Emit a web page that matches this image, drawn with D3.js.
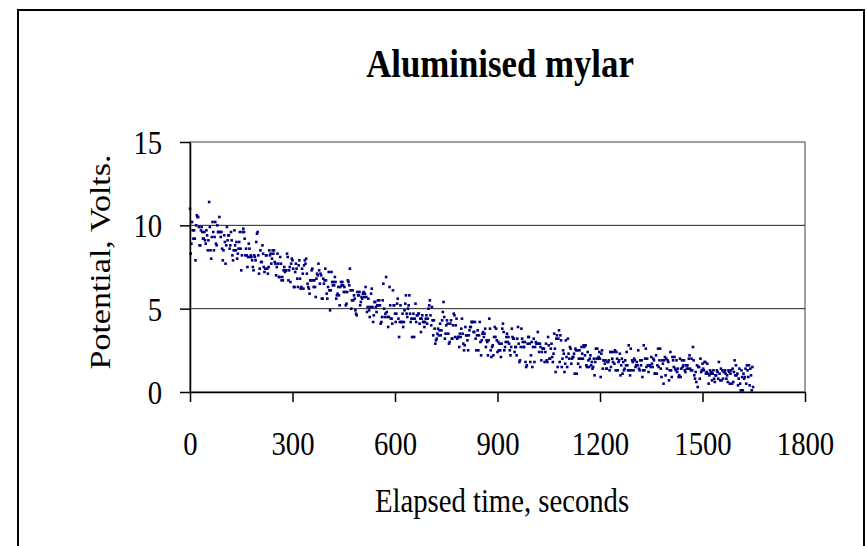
<!DOCTYPE html>
<html>
<head>
<meta charset="utf-8">
<script src="https://cdn.jsdelivr.net/npm/d3@7"></script>
<style>
  body { margin: 0; background: #fff; }
  text { font-family: "Liberation Serif", "Times New Roman", serif; fill: #000; }
</style>
</head>
<body>
<div id="chart"></div>
<script>
// chart text
var title = "Aluminised mylar";
var xTitle = "Elapsed time, seconds";
var yTitle = "Potential, Volts.";

// tick values
var xTicks = [0, 300, 600, 900, 1200, 1500, 1800];
var yTicks = [0, 5, 10, 15];

// readings were logged every 2 seconds, each segment starts at these times
var sampleStep = 2;
var segmentStart = [0, 300, 600, 900, 1200, 1500];

// potential readings (volts), one array per 300 s segment
var volts0 = [
  11.0, 8.3, 8.9, 10.2, 9.7, 9.2, 9.7, 9.2, 7.9, 10.0, 10.6, 10.5, 10.5, 9.9, 8.8, 8.8, 9.7, 9.9, 9.6, 9.2, 9.2, 9.6, 9.1, 8.9, 9.7,
  9.4, 8.5, 9.1, 11.4, 9.9, 8.5, 8.0, 9.3, 10.2, 9.6, 8.5, 9.3, 10.2, 8.9, 8.8, 10.0, 9.6, 9.6, 10.5, 9.6, 9.3, 9.6, 8.6, 7.9, 8.5,
  9.4, 9.0, 7.7, 8.8, 9.9, 9.1, 9.4, 9.4, 8.6, 8.8, 9.6, 9.1, 8.2, 7.9, 8.5, 9.7, 8.8, 8.5, 9.0, 8.0, 8.3, 8.6, 9.0, 9.6, 8.6,
  7.3, 8.2, 9.6, 9.8, 9.6, 9.2, 8.2, 8.6, 8.2, 7.5, 8.1, 8.9, 8.6, 8.1, 8.2, 8.1, 7.9, 7.5, 7.3, 8.2, 8.1, 7.9, 9.0, 9.5, 9.6,
  8.2, 7.1, 7.4, 8.5, 7.8, 7.8, 8.8, 8.3, 7.5, 7.2, 7.4, 8.2, 8.2, 7.4, 7.1, 7.5, 8.5, 8.2, 8.3, 7.7, 8.0, 8.5, 8.3, 8.5, 7.8,
  7.7, 7.0, 7.5, 8.3, 7.7, 6.9, 6.9, 8.1, 7.7, 6.7, 6.9, 6.7, 7.3, 7.5, 7.2, 7.3, 7.3, 8.3, 8.1, 6.7, 7.3, 7.5, 6.6, 7.7, 8.0
];
var volts1 = [
  7.9, 7.4, 6.3, 6.3, 7.2, 7.7, 7.4, 6.8, 6.3, 7.6, 7.9, 6.8, 6.2, 6.3, 7.4, 7.1, 6.2, 7.6, 7.9, 7.7, 8.0, 7.1, 6.5, 6.3, 6.2,
  5.9, 6.7, 6.7, 7.3, 7.4, 6.7, 6.3, 6.7, 6.3, 5.7, 6.8, 7.1, 7.0, 7.7, 7.3, 6.5, 7.1, 7.0, 5.6, 5.6, 6.8, 6.5, 6.7, 7.4, 6.7,
  5.9, 5.6, 6.3, 7.2, 6.1, 4.9, 6.1, 7.2, 6.6, 6.4, 6.6, 6.4, 6.9, 6.6, 5.6, 5.8, 5.9, 6.3, 5.8, 5.2, 6.3, 6.6, 6.4, 6.6, 6.4,
  6.0, 6.3, 6.0, 5.2, 5.3, 6.0, 6.7, 6.6, 6.4, 7.4, 6.1, 5.0, 5.5, 6.1, 5.5, 5.8, 5.6, 4.9, 4.7, 4.6, 6.0, 5.8, 5.8, 6.0, 5.2,
  5.4, 5.7, 5.6, 5.9, 6.0, 5.7, 5.9, 6.3, 5.7, 4.8, 5.1, 5.6, 4.9, 4.5, 5.1, 5.9, 6.2, 5.1, 4.2, 4.6, 5.4, 5.4, 5.1, 4.8, 5.2,
  5.5, 5.2, 5.5, 5.2, 4.1, 4.2, 4.5, 5.5, 6.5, 5.0, 4.5, 4.7, 6.9, 4.8, 4.5, 3.9, 4.5, 6.3, 5.2, 4.4, 4.4, 4.1, 6.1, 5.2, 5.2
];
var volts2 = [
  4.7, 4.2, 4.7, 5.3, 5.6, 4.4, 3.3, 4.2, 5.2, 4.2, 4.2, 4.7, 3.9, 4.2, 4.9, 5.3, 5.8, 4.7, 4.5, 5.0, 5.2, 5.8, 4.7, 4.2, 4.4,
  3.3, 4.4, 4.7, 3.3, 4.4, 5.3, 4.2, 4.6, 4.6, 4.7, 4.7, 4.1, 4.4, 3.6, 4.4, 4.6, 4.2, 4.2, 3.9, 4.2, 4.4, 4.6, 4.1, 4.4, 5.0,
  5.2, 5.5, 4.6, 4.0, 5.1, 4.3, 3.4, 4.3, 3.8, 2.9, 3.1, 3.2, 3.5, 3.8, 3.4, 3.7, 4.1, 3.4, 3.7, 4.3, 4.8, 5.4, 4.5, 3.2, 3.5,
  4.0, 4.3, 4.1, 3.5, 2.9, 3.0, 4.1, 4.3, 3.2, 3.2, 4.0, 4.7, 4.6, 3.3, 4.0, 4.4, 3.2, 3.3, 3.3, 2.7, 3.5, 3.3, 3.8, 4.4, 3.5,
  2.9, 2.5, 2.8, 3.9, 3.4, 3.4, 3.1, 2.5, 3.4, 3.7, 3.9, 3.9, 4.2, 4.2, 4.2, 3.6, 3.6, 4.2, 3.2, 2.5, 3.4, 3.7, 2.5, 3.4, 4.2,
  3.0, 2.2, 3.1, 3.5, 3.6, 3.3, 3.5, 3.8, 2.7, 3.1, 3.0, 2.2, 3.1, 4.4, 3.8, 2.5, 2.1, 2.7, 2.8, 2.2, 3.3, 3.9, 3.3, 3.8, 3.1
];
var volts3 = [
  2.4, 3.0, 2.5, 2.9, 2.5, 2.1, 2.9, 3.8, 4.1, 3.6, 2.5, 2.7, 3.0, 3.3, 3.5, 3.0, 3.3, 2.9, 2.5, 2.2, 2.7, 3.8, 3.3, 3.2, 3.2,
  2.4, 2.7, 2.7, 2.2, 3.2, 3.9, 2.9, 1.8, 1.9, 2.7, 3.8, 3.2, 3.0, 2.7, 2.7, 3.0, 1.8, 1.5, 1.6, 2.9, 3.3, 3.3, 2.9, 1.8, 2.2,
  3.0, 1.5, 2.7, 3.2, 1.8, 2.7, 3.0, 2.9, 2.9, 3.6, 2.9, 2.4, 2.9, 2.7, 1.9, 2.4, 2.6, 2.6, 2.6, 1.8, 2.4, 2.9, 1.9, 1.8, 3.3,
  2.8, 2.0, 2.0, 2.6, 2.9, 2.1, 1.8, 2.3, 3.5, 2.6, 1.2, 3.2, 3.4, 1.5, 3.2, 3.7, 1.8, 3.4, 3.1, 1.5, 2.0, 2.5, 2.3, 1.2, 1.7,
  3.1, 2.1, 1.5, 3.2, 2.3, 2.0, 2.7, 2.6, 1.7, 2.0, 2.1, 2.1, 2.3, 1.1, 2.6, 2.5, 1.1, 2.5, 1.7, 2.0, 2.5, 1.5, 2.0, 2.7, 2.3,
  2.0, 2.8, 2.7, 2.2, 2.8, 1.6, 1.5, 2.4, 1.9, 1.5, 2.0, 2.2, 1.6, 1.8, 1.4, 1.5, 2.0, 1.0, 1.8, 2.6, 2.0, 2.6, 2.0, 2.1, 2.4
];
var volts4 = [
  2.0, 0.9, 2.3, 2.5, 1.4, 1.9, 1.9, 1.7, 1.9, 1.4, 1.4, 1.8, 1.8, 1.9, 1.3, 2.4, 1.5, 2.4, 2.0, 1.8, 2.4, 1.7, 2.5, 1.3, 2.4,
  2.0, 1.3, 1.8, 1.9, 2.3, 1.0, 1.6, 2.0, 1.1, 1.8, 1.3, 1.4, 1.9, 1.6, 2.4, 1.6, 1.3, 2.8, 1.3, 1.0, 2.6, 1.3, 1.9, 1.8, 1.3,
  2.0, 1.9, 1.5, 1.6, 1.8, 1.6, 2.5, 1.4, 1.3, 1.9, 1.6, 1.9, 0.9, 1.3, 2.8, 1.3, 2.0, 2.6, 1.5, 2.0, 1.6, 1.2, 1.6, 1.6, 1.5,
  2.1, 1.7, 1.5, 2.0, 1.9, 1.1, 1.1, 2.2, 1.1, 1.6, 2.6, 1.5, 1.9, 2.6, 1.4, 0.9, 1.9, 1.7, 0.5, 1.9, 2.1, 1.0, 2.0, 1.4, 1.9,
  1.8, 0.7, 1.3, 2.4, 1.3, 0.9, 2.1, 1.9, 1.5, 2.1, 1.4, 1.3, 1.9, 1.2, 1.4, 0.9, 1.0, 2.0, 0.9, 1.4, 1.9, 1.5, 1.6, 1.9, 1.3,
  1.2, 1.6, 1.4, 1.6, 1.4, 2.0, 2.2, 1.4, 1.3, 2.0, 1.3, 2.7, 1.9, 1.0, 0.8, 1.2, 0.6, 1.6, 0.3, 1.5, 1.5, 0.8, 2.0, 1.2, 1.3
];
var volts5 = [
  1.7, 1.4, 1.3, 1.8, 1.8, 1.1, 1.2, 1.7, 1.1, 0.5, 1.0, 1.3, 1.1, 1.2, 0.7, 1.1, 1.3, 0.8, 0.6, 1.0, 1.0, 1.3, 1.2, 0.8, 1.8,
  1.1, 0.7, 1.4, 0.7, 1.3, 0.8, 1.2, 1.2, 1.3, 1.1, 0.8, 1.0, 0.6, 1.3, 1.2, 0.5, 1.1, 1.3, 0.5, 1.4, 0.6, 1.2, 1.9, 1.0, 1.6,
  1.0, 1.1, 0.4, 0.8, 1.4, 0.5, 0.1, 1.3, 0.9, 0.1, 1.1, 0.8, 0.9, 1.4, 0.5, 1.6, 1.3, 0.9, 1.6, 0.4, 1.4, 1.0, 0.1, 1.5, 0.3
];

var segments = [volts0, volts1, volts2, volts3, volts4, volts5];
var data = [];
segments.forEach(function(seg, k) {
  seg.forEach(function(v, i) {
    data.push({t: segmentStart[k] + i * sampleStep, v: v});
  });
});

var width = 867, height = 546;
var squeeze = 0.87;   // the original text is slightly narrow

var svg = d3.select("#chart").append("svg")
    .attr("width", width)
    .attr("height", height);

// outer frame
svg.append("rect")
    .attr("x", 18).attr("y", 10)
    .attr("width", 846).attr("height", 560)
    .attr("fill", "none")
    .attr("stroke", "#000")
    .attr("stroke-width", 2);

// scales
var x = d3.scaleLinear().domain([0, 1800]).range([190, 805]);
var y = d3.scaleLinear().domain([0, 15]).range([392, 142]);

// plot area border (grey)
svg.append("rect")
    .attr("x", x(0)).attr("y", y(15))
    .attr("width", x(1800) - x(0)).attr("height", y(0) - y(15))
    .attr("fill", "none")
    .attr("stroke", "#808080")
    .attr("stroke-width", 1.5);

// gridlines
svg.append("g").selectAll("line")
    .data(yTicks.filter(function(d) { return d > 0 && d < 15; }))
  .enter().append("line")
    .attr("x1", x(0)).attr("x2", x(1800))
    .attr("y1", function(d) { return y(d); })
    .attr("y2", function(d) { return y(d); })
    .attr("stroke", "#222")
    .attr("stroke-width", 1);

// points
svg.append("g").selectAll("rect")
    .data(data)
  .enter().append("rect")
    .attr("x", function(d) { return x(d.t) - 1.3; })
    .attr("y", function(d) { return y(d.v) - 1.3; })
    .attr("width", 2.6).attr("height", 2.6)
    .attr("fill", "#000080");

// axes
var xAxis = svg.append("g")
    .attr("transform", "translate(0," + y(0) + ")")
    .call(d3.axisBottom(x).tickValues(xTicks).tickSize(10).tickSizeOuter(0).tickFormat(d3.format("d")));
var yAxis = svg.append("g")
    .attr("transform", "translate(" + x(0) + ",0)")
    .call(d3.axisLeft(y).tickValues(yTicks).tickSize(10).tickSizeOuter(0).tickFormat(d3.format("d")));

[xAxis, yAxis].forEach(function(ax) {
  ax.select(".domain").attr("stroke", "#000").attr("stroke-width", 1.5);
  ax.selectAll(".tick line").attr("stroke", "#000").attr("stroke-width", 1.5);
  ax.selectAll(".tick text")
      .attr("font-family", "Liberation Serif, serif")
      .attr("font-size", 33)
      .attr("fill", "#000");
});
xAxis.selectAll(".tick text")
    .attr("y", 63).attr("dy", 0)
    .attr("transform", "scale(" + squeeze + ",1)");
yAxis.selectAll(".tick text")
    .attr("x", -32).attr("dy", "0.35em")
    .attr("transform", "scale(" + squeeze + ",1)");

// titles
svg.append("text")
    .attr("transform", "translate(500,77) scale(" + squeeze + ",1)")
    .attr("text-anchor", "middle")
    .attr("font-size", 40)
    .attr("font-weight", "bold")
    .text(title);

svg.append("text")
    .attr("transform", "translate(502,512) scale(" + squeeze + ",1)")
    .attr("text-anchor", "middle")
    .attr("font-size", 33)
    .text(xTitle);

svg.append("text")
    .attr("transform", "translate(110,262) scale(" + squeeze + ",1) rotate(-90)")
    .attr("text-anchor", "middle")
    .attr("font-size", 34)
    .text(yTitle);
</script>
</body>
</html>
